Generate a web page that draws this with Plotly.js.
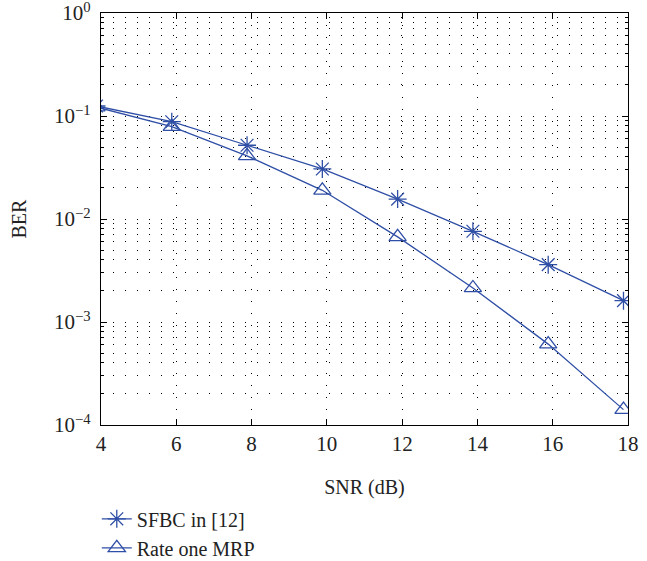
<!DOCTYPE html>
<html>
<head>
<meta charset="utf-8">
<script src="https://cdn.plot.ly/plotly-3.0.1.min.js"></script>
<style>html,body{margin:0;padding:0;background:#fff;}#chart{width:647px;height:561px;}</style>
</head>
<body>
<div id="chart"></div>
<script>
const snr = [3.88, 5.88, 7.88, 9.88, 11.88, 13.88, 15.88, 17.88];
const berSFBC = [0.125, 0.088, 0.052, 0.0306, 0.0156, 0.0076, 0.0036, 0.00161];
const berMRP = [0.122, 0.079, 0.041, 0.019, 0.0067, 0.00214, 0.00061, 0.000141];
const seriesNames = ['SFBC in [12]', 'Rate one MRP'];
const xTicks = [4, 6, 8, 10, 12, 14, 16, 18];
const yTickVals = [1, 0.1, 0.01, 0.001, 0.0001];
const yTickText = ['10<sup>0</sup>', '10<sup>−1</sup>', '10<sup>−2</sup>', '10<sup>−3</sup>', '10<sup>−4</sup>'];

const blue = '#2f4fa6';
const font = 'Liberation Serif, Times New Roman, serif';

const traces = [
  {
    x: snr, y: berSFBC, name: seriesNames[0], type: 'scatter', mode: 'lines+markers',
    line: {color: blue, width: 1.3},
    marker: {symbol: 'asterisk-open', size: 15, color: blue, line: {color: blue, width: 1.3}}
  },
  {
    x: snr, y: berMRP, name: seriesNames[1], type: 'scatter', mode: 'lines+markers',
    line: {color: blue, width: 1.3},
    marker: {symbol: 'triangle-up-open', size: 15, color: blue, line: {color: blue, width: 1.3}}
  }
];

const layout = {
  width: 647, height: 561,
  margin: {l: 101, r: 19, t: 13, b: 136, autoexpand: false},
  paper_bgcolor: '#fff', plot_bgcolor: '#fff',
  font: {family: font, size: 20, color: '#222'},
  showlegend: true,
  legend: {
    x: -0.008, xanchor: 'left', y: 0.11, yref: 'container', yanchor: 'top',
    bgcolor: 'rgba(0,0,0,0)', borderwidth: 0,
    font: {family: font, size: 20, color: '#222'},
    tracegroupgap: 0, itemwidth: 30
  },
  xaxis: {
    range: [4, 18], tickvals: xTicks, ticktext: xTicks.map(String),
    ticks: 'inside', ticklen: 6, tickcolor: '#000', mirror: 'ticks',
    showline: true, linecolor: '#000', linewidth: 1.2,
    showgrid: true, gridcolor: '#000', gridwidth: 1, griddash: '1px,11px',
    zeroline: false, ticklabeloverflow: 'allow',
    title: {text: 'SNR (dB)', font: {family: font, size: 20}, standoff: 32},
    tickfont: {family: font, size: 21}
  },
  yaxis: {
    type: 'log', range: [-4, 0], tickvals: yTickVals, ticktext: yTickText,
    ticks: 'inside', ticklen: 6, tickcolor: '#000', mirror: 'ticks',
    showline: true, linecolor: '#000', linewidth: 1.2,
    showgrid: true, gridcolor: '#000', gridwidth: 1, griddash: '1px,11px',
    zeroline: false, ticklabeloverflow: 'allow', ticklabelstandoff: 5,
    minor: {
      dtick: 'D1', ticks: 'inside', ticklen: 3, tickcolor: '#000',
      showgrid: true, gridcolor: '#000', gridwidth: 1, griddash: '1px,11px'
    },
    title: {text: 'BER', font: {family: font, size: 20}, standoff: 22},
    tickfont: {family: font, size: 21}
  }
};

Plotly.newPlot('chart', traces, layout, {displayModeBar: false, staticPlot: true});
</script>
</body>
</html>
